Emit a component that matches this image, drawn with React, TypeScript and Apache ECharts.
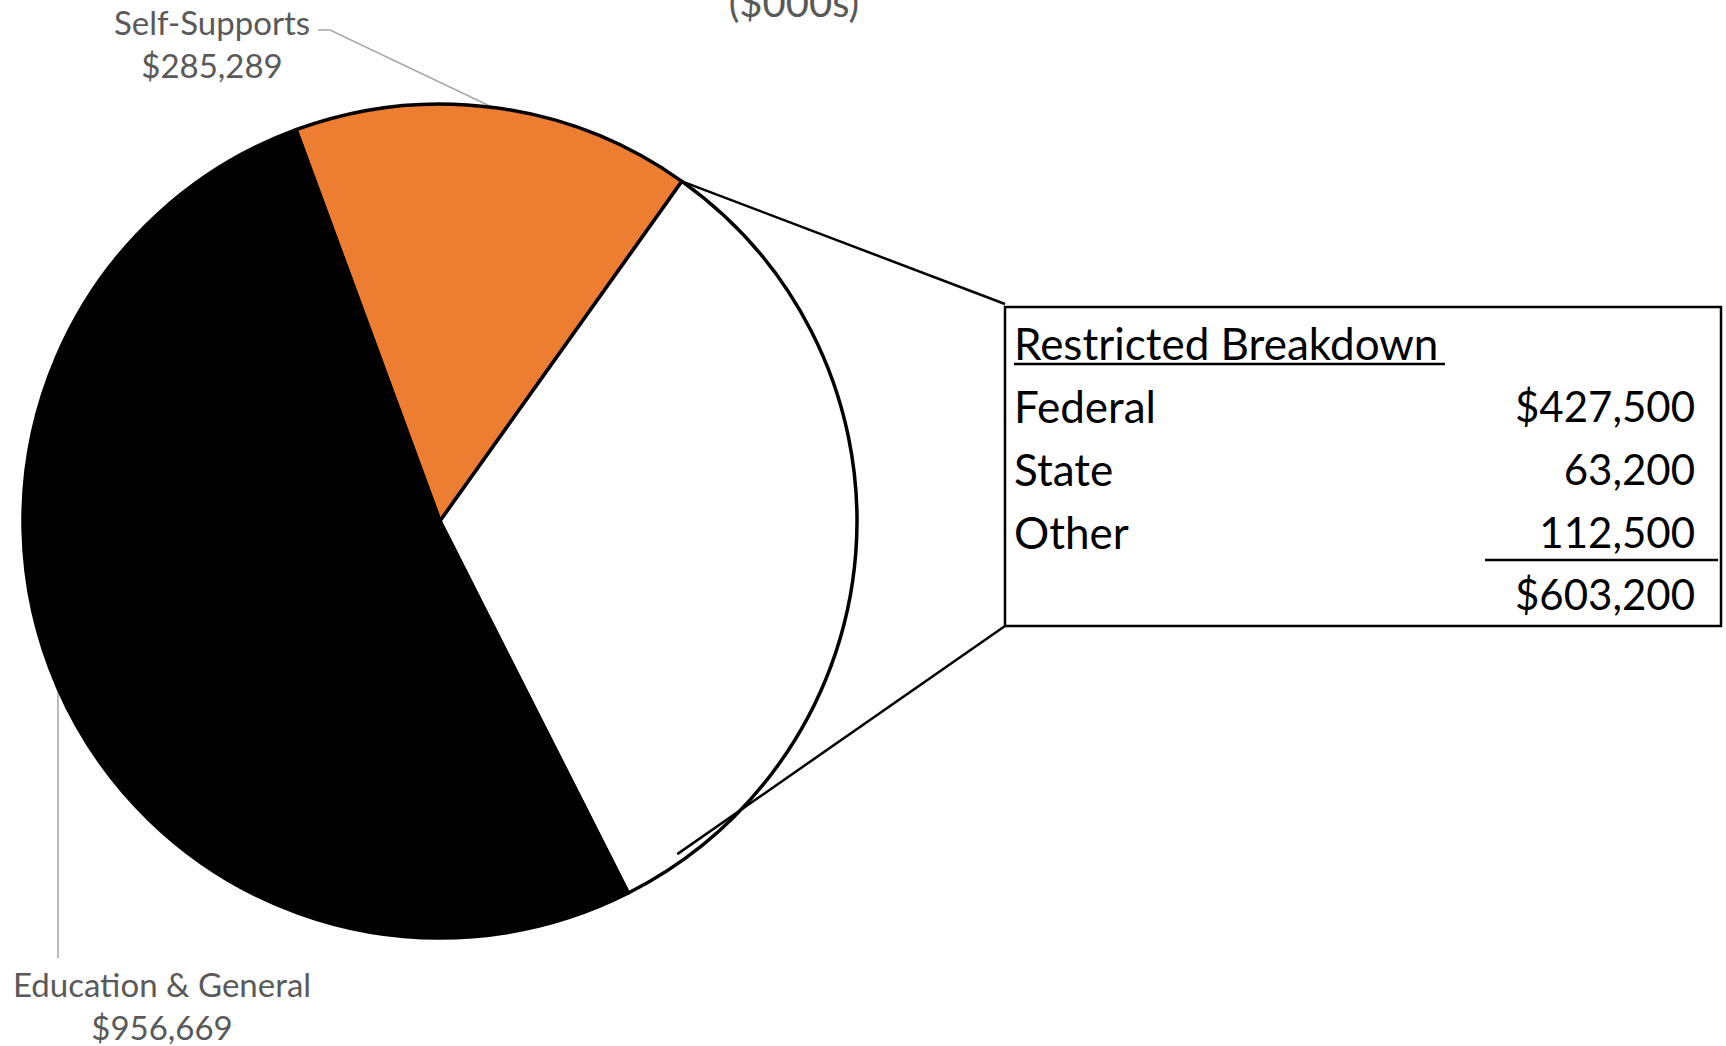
import React, { useEffect, useRef } from "react";
import * as echarts from "echarts";

const categories = ["Self-Supports", "Restricted", "Education & General"];
const values = [285289, 603200, 956669];
const sliceColors = ["#ED7D31", "#FFFFFF", "#000000"];
const subtitle = "($000s)";
const breakdownTitle = "Restricted Breakdown";
const breakdownLabels = ["Federal", "State", "Other"];
const breakdownValues = [427500, 63200, 112500];

const FONT = "Lato, 'Open Sans', sans-serif";
const fmt = (v: number) => v.toLocaleString("en-US");

export default function App() {
  const ref = useRef<HTMLDivElement>(null);
  useEffect(() => {
    if (!ref.current) return;
    const chart = echarts.init(ref.current, undefined, { renderer: "svg" });

    const cx = 440, cy = 521, R = 417;
    const startAngle = 110.2;
    const total = values.reduce((a, b) => a + b, 0);
    // angle where Self-Supports ends and Restricted begins
    const boundaryDeg = startAngle - (values[0] / total) * 360;
    const bRad = (boundaryDeg * Math.PI) / 180;
    const topPt = [cx + R * Math.cos(bRad), cy - R * Math.sin(bRad)];
    const botPt = [cx + (R - 8) * Math.cos(-bRad), cy - (R - 8) * Math.sin(-bRad)];

    const boxX = 1005, boxY = 307, boxW = 716, boxH = 319;
    const rowYs = [406, 469, 532];
    const breakdownTotal = breakdownValues.reduce((a, b) => a + b, 0);
    const wordFont = `44px ${FONT}`;
    const numFont = `42px ${FONT}`;

    const labelPos: Record<number, any> = {
      0: { x: 212, y: 43, points: [[494, 108], [330, 30], [318, 30]] },
      2: { x: 162, y: 1005, points: [[58, 688], [58, 958], [58, 958]] },
    };

    const graphics: any[] = [
      {
        type: "text",
        z: 10,
        style: {
          text: subtitle,
          x: 794,
          y: 22,
          align: "center",
          verticalAlign: "bottom",
          font: `40px ${FONT}`,
          fill: "#595959",
        },
      },
      {
        type: "line",
        z: 10,
        shape: { x1: topPt[0], y1: topPt[1], x2: boxX, y2: boxY - 3 },
        style: { stroke: "#000", lineWidth: 2.5 },
      },
      {
        type: "line",
        z: 10,
        shape: { x1: boxX, y1: boxY + boxH, x2: botPt[0], y2: botPt[1] },
        style: { stroke: "#000", lineWidth: 2.5 },
      },
      {
        type: "rect",
        z: 10,
        shape: { x: boxX, y: boxY, width: boxW, height: boxH },
        style: { fill: "#fff", stroke: "#000", lineWidth: 2.5 },
      },
      {
        type: "text",
        z: 11,
        style: {
          text: breakdownTitle,
          x: 1014,
          y: 343,
          verticalAlign: "middle",
          font: wordFont,
          fill: "#000",
        },
      },
      {
        type: "line",
        z: 11,
        shape: { x1: 1014, y1: 364, x2: 1445, y2: 364 },
        style: { stroke: "#000", lineWidth: 2.5 },
      },
      {
        type: "line",
        z: 11,
        shape: { x1: 1485, y1: 560, x2: 1718, y2: 560 },
        style: { stroke: "#000", lineWidth: 2.5 },
      },
      {
        type: "text",
        z: 11,
        style: {
          text: "$" + fmt(breakdownTotal),
          x: 1695,
          y: 594,
          align: "right",
          verticalAlign: "middle",
          font: numFont,
          fill: "#000",
        },
      },
    ];
    breakdownLabels.forEach((lab, i) => {
      graphics.push({
        type: "text",
        z: 11,
        style: {
          text: lab,
          x: 1014,
          y: rowYs[i],
          verticalAlign: "middle",
          font: wordFont,
          fill: "#000",
        },
      });
      graphics.push({
        type: "text",
        z: 11,
        style: {
          text: (i === 0 ? "$" : "") + fmt(breakdownValues[i]),
          x: 1695,
          y: rowYs[i],
          align: "right",
          verticalAlign: "middle",
          font: numFont,
          fill: "#000",
        },
      });
    });

    chart.setOption({
      animation: false,
      backgroundColor: "#ffffff",
      series: [
        {
          type: "pie",
          center: [cx, cy],
          radius: R,
          startAngle,
          clockwise: true,
          avoidLabelOverlap: false,
          itemStyle: { borderColor: "#000", borderWidth: 3.5 },
          label: {
            show: true,
            position: "outer",
            formatter: (p: any) => `${p.name}\n$${fmt(p.value)}`,
            fontFamily: FONT,
            fontSize: 33,
            lineHeight: 43,
            color: "#595959",
            align: "center",
          },
          labelLine: {
            show: true,
            lineStyle: { color: "#A6A6A6", width: 1.5 },
          },
          labelLayout: (params: any) => {
            const lp = labelPos[params.dataIndex];
            if (!lp) return {};
            return {
              x: lp.x,
              y: lp.y,
              align: "center",
              verticalAlign: "middle",
              labelLinePoints: lp.points,
            };
          },
          data: categories.map((name, i) => ({
            name,
            value: values[i],
            itemStyle: { color: sliceColors[i] },
            label: { show: i !== 1 },
            labelLine: { show: i !== 1 },
          })),
        },
      ],
      graphic: graphics,
    });
    return () => chart.dispose();
  }, []);
  return (
    <div
      ref={ref}
      style={{ position: "absolute", left: 0, top: 0, width: 1726, height: 1046 }}
    />
  );
}
